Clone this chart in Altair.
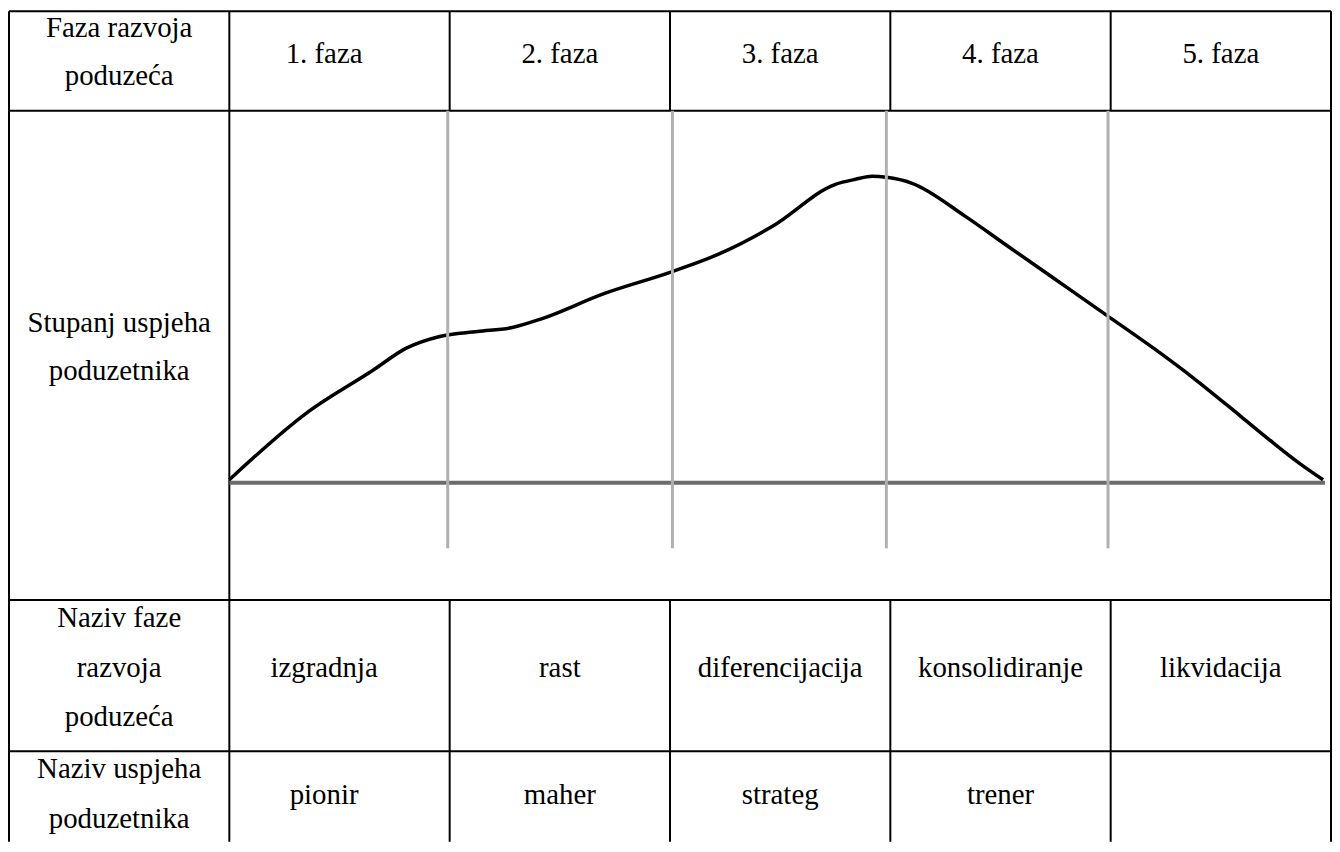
import altair as alt
import pandas as pd

# ---------------- data ----------------
PHASES = ["1. faza", "2. faza", "3. faza", "4. faza", "5. faza"]
HEADER_LABEL = ["Faza razvoja", "poduzeća"]
GRAPH_LABEL = ["Stupanj uspjeha", "poduzetnika"]
STAGE_LABEL = ["Naziv faze", "razvoja", "poduzeća"]
STAGE_NAMES = ["izgradnja", "rast", "diferencijacija", "konsolidiranje", "likvidacija"]
ROLE_LABEL = ["Naziv uspjeha", "poduzetnika"]
ROLE_NAMES = ["pionir", "maher", "strateg", "trener", ""]

# success curve: position along the phases (phase units) and success level
CURVE_X = [0.0, 0.350, 0.652, 0.801, 0.955, 1.126, 1.284, 1.420, 1.700, 2.007,
           2.223, 2.467, 2.751, 2.842, 2.918, 2.982, 3.099, 3.339, 3.519, 3.745,
           3.984, 4.196, 4.377, 4.589, 4.738, 4.860, 4.964]
CURVE_S = [3, 70, 113, 135, 147, 152, 156, 165, 190, 212,
           230, 258, 300, 305, 308, 307, 301, 268, 240, 205,
           168, 135, 105, 67, 40, 19, 3]
# phase boundary markers inside the graph
MARKERS = [0.991, 2.011, 2.982, 3.988]

# ---------------- layout (table geometry, in layout units) ----------------
W, H = 1329, 835
ROW_EDGES = [0, 100, 592, 744, H]
BASE = 474          # baseline of the graph
MARK_BOTTOM = -66   # success level where marker lines stop
BASE_END = 4.973

xs = alt.Scale(domain=[-1, 5], nice=False, zero=False)
ys = alt.Scale(domain=[0, H], reverse=True, nice=False, zero=False)
X = lambda f: alt.X(f, type="quantitative", scale=xs, axis=None)
Y = lambda f: alt.Y(f, type="quantitative", scale=ys, axis=None)

# table lines
lines = []
for e in ROW_EDGES[:4]:
    lines.append(dict(x=-1, x2=5, y=e, y2=e))
for u in (-1, 0, 5):
    lines.append(dict(x=u, x2=u, y=0, y2=H))
for u in (1, 2, 3, 4):
    lines.append(dict(x=u, x2=u, y=ROW_EDGES[0], y2=ROW_EDGES[1]))
    lines.append(dict(x=u, x2=u, y=ROW_EDGES[2], y2=ROW_EDGES[4]))
table = alt.Chart(pd.DataFrame(lines)).mark_rule(color="black", strokeWidth=2).encode(
    x=X("x"), x2="x2", y=Y("y"), y2="y2")

baseline = alt.Chart(pd.DataFrame([dict(x=0, x2=BASE_END, y=BASE)])).mark_rule(
    color="#6b6b6b", strokeWidth=4).encode(x=X("x"), x2="x2", y=Y("y"))

curve_df = pd.DataFrame({"x": CURVE_X, "s": CURVE_S})
curve_df["y"] = BASE - curve_df["s"]
curve = alt.Chart(curve_df).mark_line(color="black", strokeWidth=3.5,
                                      interpolate="monotone").encode(
    x=X("x"), y=Y("y"), order="x:Q")

mk = pd.DataFrame({"x": MARKERS})
mk["y"] = ROW_EDGES[1]
mk["y2"] = BASE - MARK_BOTTOM
markers = alt.Chart(mk).mark_rule(color="#b0b0b0", strokeWidth=3).encode(
    x=X("x"), y=Y("y"), y2="y2")

# texts
col_center = [k + 0.5 for k in range(5)]
col_shift = [-0.07, 0, 0, 0, 0]
texts = []
def block(lines_, x, ys_):
    for t, yy in zip(lines_, ys_):
        texts.append(dict(t=t, x=x, y=yy))

block(HEADER_LABEL, -0.5, [26, 74])
block(GRAPH_LABEL, -0.5, [323, 371])
block(STAGE_LABEL, -0.5, [619, 669, 719])
block(ROLE_LABEL, -0.5, [771, 821])
for i in range(5):
    cx = col_center[i] + col_shift[i]
    block([PHASES[i]], cx, [52])
    block([STAGE_NAMES[i]], cx, [669])
    block([ROLE_NAMES[i]], cx, [797])

text = alt.Chart(pd.DataFrame(texts)).mark_text(
    font="Liberation Serif", fontSize=29, color="black", align="center",
    baseline="alphabetic").encode(x=X("x"), y=Y("y"), text="t:N")

chart = alt.layer(table, baseline, curve, markers, text).properties(
    width=W, height=H,
    padding={"left": 1, "top": 1, "right": 1, "bottom": 0},
    autosize=alt.AutoSizeParams(type="none"),
).configure_view(stroke=None)

chart.save("out.html", embed_options={"renderer": "svg", "actions": False})
